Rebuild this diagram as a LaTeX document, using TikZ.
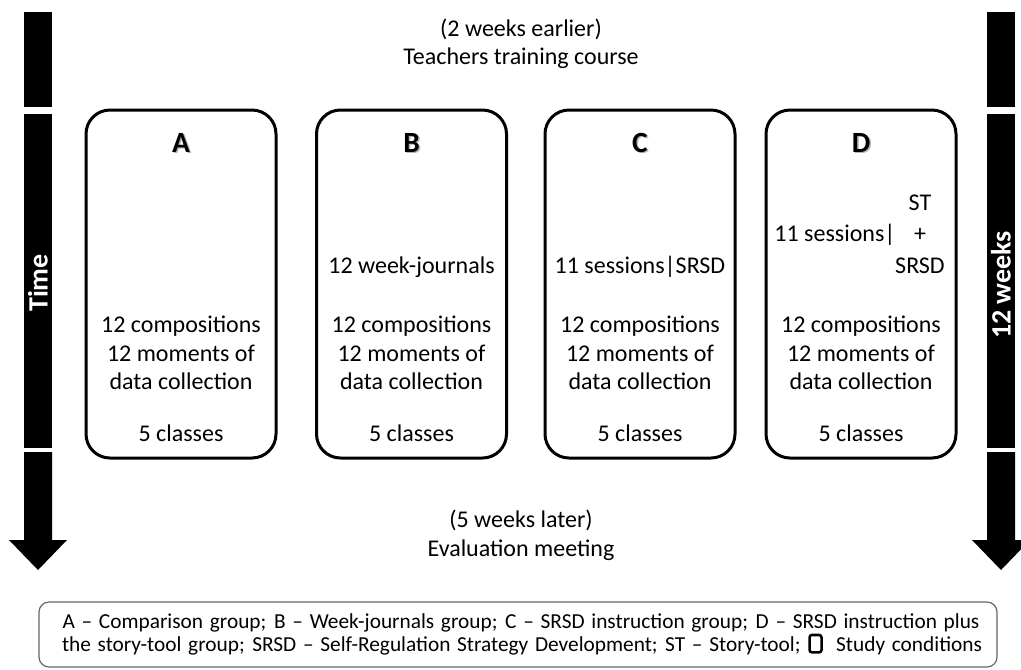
\documentclass[tikz,border=0pt]{standalone}
\usepackage{fontspec}
\setmainfont{Carlito}
\begin{document}
\begin{tikzpicture}[x=0.75pt,y=-0.75pt,
  txt/.style={font=\fontsize{18}{21}\selectfont, inner sep=0pt, anchor=base},
  lbl/.style={font=\fontsize{22}{26}\selectfont\bfseries, inner sep=0pt, anchor=base},
  lblshadow/.style={lbl, text=black!30},
  condbox/.style={draw, line width=2.25pt, rounded corners=18pt, minimum width=142.5pt, minimum height=261pt, inner sep=0pt},
  legendbox/.style={draw=black!60, line width=0.9pt, rounded corners=7.5pt, minimum width=718.5pt, minimum height=48.75pt, inner sep=0pt},
  legtxt/.style={font=\fontsize{16}{19}\selectfont, inner sep=0pt, anchor=base},
  side/.style={font=\fontsize{21}{25}\selectfont\bfseries, text=white, rotate=90, inner sep=0pt}
]
\useasboundingbox (0,0) rectangle (1021,669);
\fill[white] (0,0) rectangle (1021,669);

% time arrows (left and right)
\fill (24,12) rectangle (52,107);
\fill (24,114) rectangle (52,448);
\fill (24,452) -- (52,452) -- (52,540) -- (67,540) -- (38,570) -- (9,540) -- (24,540) -- cycle;
\fill (987,12) rectangle (1015,107);
\fill (987,114) rectangle (1015,448);
\fill (987,452) -- (1015,452) -- (1015,540) -- (1030,540) -- (1001,570) -- (972,540) -- (987,540) -- cycle;
\node[side] (time) at (38,283) {Time};
\node[side] (weeks) at (1001,285) {12 weeks};

% top and bottom texts
\node[txt] (before1) at (521,36) {(2 weeks earlier)};
\node[txt] (before2) at (521,64) {Teachers training course};
\node[txt] (after1) at (521,527) {(5 weeks later)};
\node[txt] (after2) at (521,556) {Evaluation meeting};

% condition boxes
\node[condbox] (A) at (181,284) {};
\node[condbox] (B) at (411.5,284) {};
\node[condbox] (C) at (640,284) {};
\node[condbox] (D) at (861,284) {};

\foreach \n/\cx in {A/181,B/411.5,C/640,D/861}{
  \node[lblshadow] (\n s) at (\cx+1.5,153.5) {\n};
  \node[lbl] (\n l) at (\cx,152) {\n};
  \node[txt] (\n c1) at (\cx,332) {12 compositions};
  \node[txt] (\n c2) at (\cx,361) {12 moments of};
  \node[txt] (\n c3) at (\cx,389) {data collection};
  \node[txt] (\n c4) at (\cx,441) {5 classes};
}
\node[txt] (Bj) at (411.5,273) {12 week-journals};
\node[txt] (Cs) at (640,273) {11 sessions|SRSD};
\node[txt] (Ds) at (835,241) {11 sessions|};
\node[txt] (Dst) at (920,210) {ST};
\node[txt] (Dplus) at (920,241) {+};
\node[txt] (Dsrsd) at (920,273) {SRSD};

% legend
\node[legendbox] (legend) at (518,634.5) {};
\node[legtxt] (leg1) at (521,628) {\makebox[687.75pt][s]{A – Comparison group; B – Week-journals group; C – SRSD instruction group; D – SRSD instruction plus}};
\node[legtxt] (leg2) at (522,651) {\makebox[690pt][s]{the story-tool group; SRSD – Self-Regulation Strategy Development; ST – Story-tool; \tikz[baseline=0pt,x=1pt,y=1pt]\draw[line width=1.9pt, rounded corners=1.8pt] (0,-1) rectangle (9,12);\ \ Study conditions}};
\end{tikzpicture}
\end{document}
